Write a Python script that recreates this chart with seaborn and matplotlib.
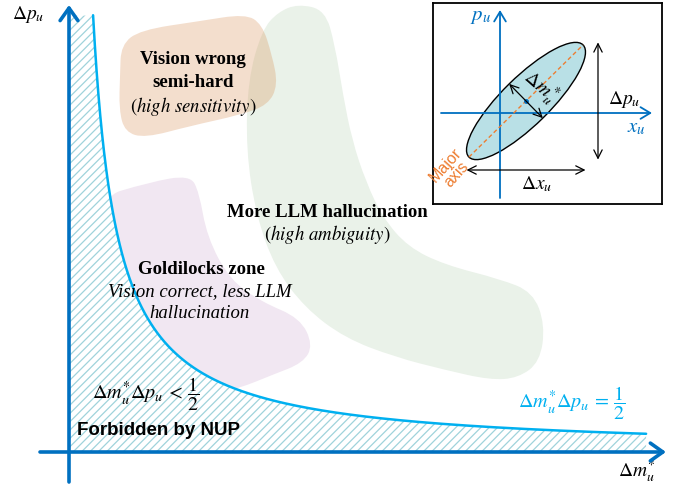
import numpy as np
import pandas as pd
import matplotlib
matplotlib.use("Agg")
import matplotlib.pyplot as plt
from matplotlib.path import Path
from matplotlib.patches import PathPatch, Ellipse
import seaborn as sns

# ---------------------------------------------------------------
# Uncertainty bound  Δm*·Δp = 1/2
BOUND = 0.5
CURVE_DM_RANGE = (0.166, 3.98)   # drawn extent of the bound along Δm*
HATCH_TOP = 3.01                 # forbidden band is clipped at this Δp

# Region outlines (control polygons, in Δm*, Δp units)
vision_wrong_dm = [0.352, 0.359, 0.490, 0.903, 1.214, 1.331, 1.400, 1.441,
                   1.372, 1.179, 0.834, 0.524, 0.386, 0.345]
vision_wrong_dp = [2.600, 2.807, 2.910, 2.972, 3.021, 2.952, 2.738, 2.531,
                   2.393, 2.324, 2.248, 2.166, 2.207, 2.359]

ambiguity_dm = [1.579, 1.766, 1.834, 1.890, 1.952, 2.048, 2.166, 2.338, 2.593,
                2.972, 3.200, 3.283, 3.248, 3.097, 2.903, 2.593, 2.248, 1.903,
                1.628, 1.421, 1.290, 1.221, 1.234, 1.331, 1.441]
ambiguity_dp = [3.090, 3.048, 2.807, 2.462, 2.152, 1.862, 1.614, 1.414, 1.290,
                1.193, 1.103, 0.876, 0.621, 0.510, 0.497, 0.566, 0.655, 0.786,
                0.993, 1.269, 1.634, 2.083, 2.566, 2.910, 3.034]

goldilocks_dm = [0.145, 0.559, 0.834, 0.897, 0.952, 1.110, 1.331, 1.593,
                 1.683, 1.614, 1.400, 1.179, 0.766, 0.214]
goldilocks_dp = [1.738, 1.862, 1.910, 1.793, 1.483, 1.186, 1.034, 0.924,
                 0.738, 0.614, 0.531, 0.441, 0.324, 0.359]

# Phase-space inset: uncertainty ellipse (x_u, p_u plane)
ellipse_center = (26.0, 12.0)
ellipse_major = 160.0
ellipse_minor = 48.0
ellipse_angle = 44.5

# ---------------------------------------------------------------
sns.set_theme(style="white")
plt.rcParams["font.family"] = ["Liberation Serif", "DejaVu Sans"]
plt.rcParams["mathtext.fontset"] = "stix"
plt.rcParams["hatch.linewidth"] = 0.9
plt.rcParams["text.color"] = "black"

AXIS_BLUE = "#0070c0"
BOUND_BLUE = "#00b0f0"

fig = plt.figure(figsize=(6.77, 4.87), dpi=100)
ax = fig.add_axes([0, 0, 1, 1])
ax.set_xlim(-0.4759, 4.1931)
ax.set_ylim(-0.2414, 3.1172)
ax.set_axis_off()


def smooth_blob(xs, ys):
    """Closed outline through edge midpoints, rounded at each control vertex."""
    pts = np.column_stack([xs, ys])
    n = len(pts)
    mids = (pts + np.roll(pts, -1, axis=0)) / 2.0
    verts = [mids[-1]]
    codes = [Path.MOVETO]
    for i in range(n):
        verts += [pts[i], mids[i]]
        codes += [Path.CURVE3, Path.CURVE3]
    verts.append(mids[-1])
    codes.append(Path.CLOSEPOLY)
    return Path(verts, codes)


ax.add_patch(PathPatch(smooth_blob(ambiguity_dm, ambiguity_dp),
                       facecolor="#eaf2e9", edgecolor="none", zorder=1))
ax.add_patch(PathPatch(smooth_blob(vision_wrong_dm, vision_wrong_dp),
                       facecolor="#d9925a", alpha=0.3, edgecolor="none", zorder=1.2))
ax.add_patch(PathPatch(smooth_blob(goldilocks_dm, goldilocks_dp),
                       facecolor="#f1e7f2", edgecolor="none", zorder=1))

# Forbidden band below the bound
band_dm = np.geomspace(0.001, CURVE_DM_RANGE[1], 600)
band_dp = np.minimum(BOUND / band_dm, HATCH_TOP)
ax.fill_between(band_dm, 0, band_dp, facecolor="white", edgecolor="#9fd3db",
                hatch="////", linewidth=0, zorder=2)

# The bound itself
curve_dm = np.geomspace(*CURVE_DM_RANGE, 500)
bound_df = pd.DataFrame({"dm": curve_dm, "dp": BOUND / curve_dm})
sns.lineplot(data=bound_df, x="dm", y="dp", ax=ax, color=BOUND_BLUE,
             linewidth=1.8, sort=False, estimator=None, zorder=3)
ax.set_axis_off()

# Axes arrows
arrow_kw = dict(arrowstyle="->,head_length=0.45,head_width=0.32", lw=2.6,
                color=AXIS_BLUE, shrinkA=0, shrinkB=0, mutation_scale=20)
ax.annotate("", xy=(0, 3.083), xytext=(0, -0.207), arrowprops=arrow_kw, zorder=4)
ax.annotate("", xy=(4.117, 0), xytext=(-0.2, 0), arrowprops=arrow_kw, zorder=4)

ax.text(-0.283, 3.014, r"$\Delta p_u$", fontsize=14, ha="center", va="center")
ax.text(3.917, -0.131, r"$\Delta m_u^{*}$", fontsize=14, ha="center", va="center")

# Region labels
ax.text(0.855, 2.710, "Vision wrong", fontsize=13.5, weight="bold",
        ha="center", va="center", zorder=5)
ax.text(0.855, 2.545, "semi-hard", fontsize=13.5, weight="bold",
        ha="center", va="center", zorder=5)
ax.text(0.855, 2.386, r"$(\mathit{high\ sensitivity})$", fontsize=13.5,
        ha="center", va="center", zorder=5)

ax.text(1.779, 1.655, "More LLM hallucination", fontsize=13.5, weight="bold",
        ha="center", va="center", zorder=5)
ax.text(1.779, 1.497, r"$(\mathit{high\ ambiguity})$", fontsize=13.5,
        ha="center", va="center", zorder=5)

ax.text(0.910, 1.262, "Goldilocks zone", fontsize=13.5, weight="bold",
        ha="center", va="center", zorder=5)
ax.text(0.903, 1.103, "Vision correct, less LLM", fontsize=13.5, style="italic",
        ha="center", va="center", zorder=5)
ax.text(0.903, 0.952, "hallucination", fontsize=13.5, style="italic",
        ha="center", va="center", zorder=5)

ax.text(0.159, 0.40, r"$\Delta m_u^{*}\Delta p_u \,<\, \dfrac{1}{2}$", fontsize=14.5,
        ha="left", va="center", zorder=5)
ax.text(0.055, 0.145, "Forbidden by NUP", fontsize=13.5, weight="bold",
        family="Liberation Sans", ha="left", va="center", zorder=5)
ax.text(3.469, 0.338, r"$\Delta m_u^{*}\Delta p_u \,=\, \dfrac{1}{2}$", fontsize=14.5,
        color=BOUND_BLUE, ha="center", va="center", zorder=5)

# ---------------------------------------------------------------
# Inset: phase-space ellipse
ins = fig.add_axes([433 / 677, (487 - 204) / 487, 229 / 677, 201 / 487])
ins.set_xlim(-67, 162)
ins.set_ylim(-91, 110)
ins.set_xticks([])
ins.set_yticks([])
ins.set_facecolor("white")
for sp in ins.spines.values():
    sp.set_visible(True)
    sp.set_color("black")
    sp.set_linewidth(1.3)

thin_arrow = dict(arrowstyle="->,head_length=0.5,head_width=0.3", lw=1.3,
                  color=AXIS_BLUE, shrinkA=0, shrinkB=0, mutation_scale=14)
ins.annotate("", xy=(0, 103), xytext=(0, -85), arrowprops=thin_arrow)
ins.annotate("", xy=(152, 0), xytext=(-59, 0), arrowprops=thin_arrow)
ins.text(-19, 96, r"$p_u$", fontsize=15, color=AXIS_BLUE, ha="center", va="center")
ins.text(136, -15, r"$x_u$", fontsize=15, color=AXIS_BLUE, ha="center", va="center")

cx, cy = ellipse_center
a, b = ellipse_major / 2, ellipse_minor / 2
th = np.deg2rad(ellipse_angle)
ins.add_patch(Ellipse(ellipse_center, ellipse_major, ellipse_minor,
                      angle=ellipse_angle, facecolor="#b9e0e6",
                      edgecolor="black", lw=1.0, zorder=2))
# major axis
ins.plot([cx - a * np.cos(th), cx + a * np.cos(th)],
         [cy - a * np.sin(th), cy + a * np.sin(th)],
         ls=(0, (3, 2)), color="#ed7d31", lw=1.0, zorder=3)
ins.plot([cx], [cy], "o", ms=2.5, color=AXIS_BLUE, zorder=4)

dbl = dict(arrowstyle="<->,head_length=0.5,head_width=0.25", lw=0.9,
           color="black", shrinkA=0, shrinkB=0, mutation_scale=12)
# minor axis width
ins.annotate("", xy=(cx + b * np.sin(th), cy - b * np.cos(th)),
             xytext=(cx - b * np.sin(th), cy + b * np.cos(th)), arrowprops=dbl, zorder=4)
ins.text(cx + 14, cy + 14, r"$\Delta m_u^{*}$", fontsize=14, rotation=-41,
         ha="center", va="center", zorder=5)

# projected extents of the ellipse
half_x = np.hypot(a * np.cos(th), b * np.sin(th))
half_y = np.hypot(a * np.sin(th), b * np.cos(th))
ins.annotate("", xy=(98, cy + half_y), xytext=(98, cy - half_y), arrowprops=dbl)
ins.text(124, 13, r"$\Delta p_u$", fontsize=14, ha="center", va="center")
ins.annotate("", xy=(cx + half_x, -57), xytext=(cx - half_x, -57), arrowprops=dbl)
ins.text(37, -71, r"$\Delta x_u$", fontsize=14, ha="center", va="center")

ins.text(-49, -57, "Major\naxis", fontsize=11.5, color="#ed7d31", rotation=48,
         family="Liberation Sans", ha="center", va="center", linespacing=0.95,
         zorder=5)

fig.savefig("out.png", dpi=100)
